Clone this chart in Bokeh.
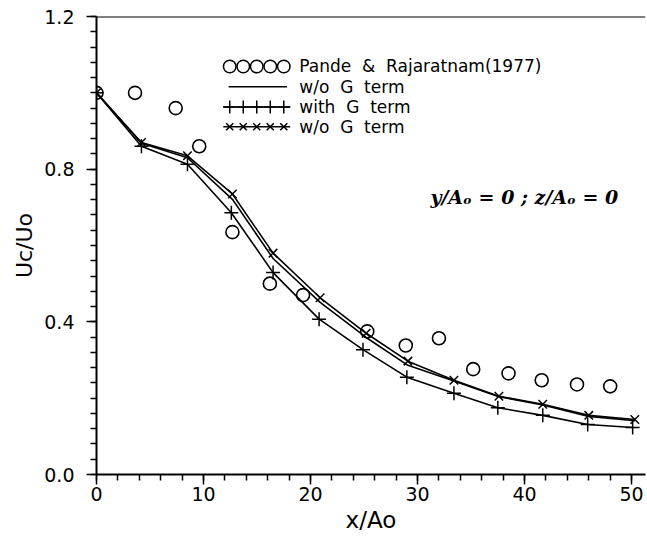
import numpy as np
from bokeh.plotting import figure
from bokeh.models import Range1d, FixedTicker, Span, Label
from bokeh.embed import file_html
from bokeh.resources import INLINE
from bokeh.core.properties import value

# ---- data ----
exp_x = [0, 3.6, 7.4, 9.6, 12.7, 16.2, 19.3, 25.3, 28.9, 32.0, 35.2, 38.5, 41.6, 44.9, 48.0]
exp_y = [1.0, 1.0, 0.96, 0.86, 0.635, 0.50, 0.47, 0.375, 0.338, 0.357, 0.276, 0.265, 0.247, 0.236, 0.231]

with_x = [0, 4.2, 8.5, 12.6, 16.5, 20.8, 24.9, 29.0, 33.4, 37.5, 41.7, 45.9, 50.1]
with_y = [1.0, 0.86, 0.813, 0.686, 0.529, 0.407, 0.327, 0.255, 0.213, 0.175, 0.155, 0.131, 0.123]

wo_x = [0, 4.2, 8.5, 12.7, 16.5, 20.9, 25.2, 29.1, 33.4, 37.6, 41.7, 46.0, 50.3]
wo_y = [1.0, 0.87, 0.835, 0.735, 0.58, 0.463, 0.37, 0.297, 0.247, 0.205, 0.184, 0.155, 0.144]

solid_x = [0, 4.2, 8.5, 12.7, 16.5, 20.9, 25.2, 29.1, 33.4, 37.6, 41.7, 46.0, 50.3]
solid_y = [1.0, 0.868, 0.83, 0.721, 0.566, 0.451, 0.359, 0.286, 0.245, 0.204, 0.182, 0.152, 0.141]

x_ticks = [0, 10, 20, 30, 40, 50]
y_ticks = [0.0, 0.4, 0.8, 1.2]
y_tick_labels = {0.0: "0.0", 0.4: "0.4", 0.8: "0.8", 1.2: "1.2"}

legend_labels = ["Pande\u00a0 &\u00a0 Rajaratnam(1977)", "w/o\u00a0 G\u00a0 term",
                 "with\u00a0 G\u00a0 term", "w/o\u00a0 G\u00a0 term"]
note_text = "y/A\u2092 = 0 ; z/A\u2092 = 0"
x_title = "x/Ao"
y_title = "Uc/Uo"

FONT = "DejaVu Sans"

p = figure(width=647, height=540, x_range=Range1d(0, 51.3), y_range=Range1d(0, 1.2),
           output_backend="svg", toolbar_location=None,
           min_border_left=96, min_border_right=2, min_border_top=16, min_border_bottom=66)
p.grid.visible = False
p.outline_line_color = None
p.background_fill_color = "white"
p.border_fill_color = "white"

for ax in (p.xaxis[0], p.yaxis[0]):
    ax.axis_line_width = 2
    ax.axis_line_color = "black"
    ax.major_tick_line_width = 1.5
    ax.minor_tick_line_width = 1.5
    ax.major_tick_in = 0
    ax.major_tick_out = 10
    ax.minor_tick_in = 0
    ax.minor_tick_out = 6
    ax.major_label_text_font = FONT
    ax.major_label_text_font_size = "19px"
    ax.major_label_text_color = "black"
    ax.axis_label_text_font = FONT
    ax.axis_label_text_font_style = "normal"
    ax.axis_label_text_color = "black"

p.xaxis.ticker = FixedTicker(ticks=x_ticks, minor_ticks=list(np.arange(0, 51, 2)))
p.yaxis.ticker = FixedTicker(ticks=y_ticks, minor_ticks=[round(v, 2) for v in np.arange(0, 1.21, 0.04)])
p.yaxis.major_label_overrides = y_tick_labels
p.xaxis.axis_label = x_title
p.xaxis.axis_label_text_font_size = "23px"
p.xaxis.axis_label_standoff = 3
p.xaxis.major_label_standoff = 2
p.yaxis.major_label_standoff = 12
p.yaxis.axis_label = y_title
p.yaxis.axis_label_text_font_size = "22px"
p.yaxis.axis_label_standoff = 4

p.add_layout(Span(location=1.2, dimension="width", line_color="black", line_width=2))

# curves
LW = 1.6
p.line(solid_x, solid_y, line_color="black", line_width=LW)
p.line(with_x, with_y, line_color="black", line_width=LW)
p.scatter(with_x, with_y, marker="cross", size=14, line_color="black", line_width=1.5)
p.line(wo_x, wo_y, line_color="black", line_width=LW)
p.scatter(wo_x, wo_y, marker="x", size=12, line_color="black", line_width=1.5)
p.scatter(exp_x, exp_y, marker="circle", size=13, fill_color=None, line_color="black", line_width=1.6)

# legend (drawn by hand: five sample markers per row)
LEG_X0, LEG_X1, LEG_TX = 11.85, 18.1, 18.95
LEG_ROWS = [1.069, 1.016, 0.963, 0.911]
sx = list(np.linspace(LEG_X0 + 0.6, LEG_X1 - 0.6, 5))
p.scatter(sx, [LEG_ROWS[0]] * 5, marker="circle", size=12.5, fill_color=None, line_color="black", line_width=1.5)
p.line([LEG_X0 + 0.5, LEG_X1 - 0.3], [LEG_ROWS[1]] * 2, line_color="black", line_width=LW)
p.line([LEG_X0, LEG_X1], [LEG_ROWS[2]] * 2, line_color="black", line_width=LW)
p.scatter(sx, [LEG_ROWS[2]] * 5, marker="cross", size=13, line_color="black", line_width=1.5)
p.line([LEG_X0, LEG_X1], [LEG_ROWS[3]] * 2, line_color="black", line_width=LW)
p.scatter(sx, [LEG_ROWS[3]] * 5, marker="x", size=10, line_color="black", line_width=1.5)
p.text([LEG_TX] * 4, LEG_ROWS, text=legend_labels, text_font=value(FONT), text_font_size="17px",
       text_baseline="middle", text_align="left", text_color="black")

p.add_layout(Label(x=31.2, y=0.727, text=note_text, text_font="DejaVu Serif", text_font_size="19px",
                   text_font_style="bold italic", text_baseline="middle", text_color="black"))

open("out.html", "w").write(file_html(p, INLINE))
